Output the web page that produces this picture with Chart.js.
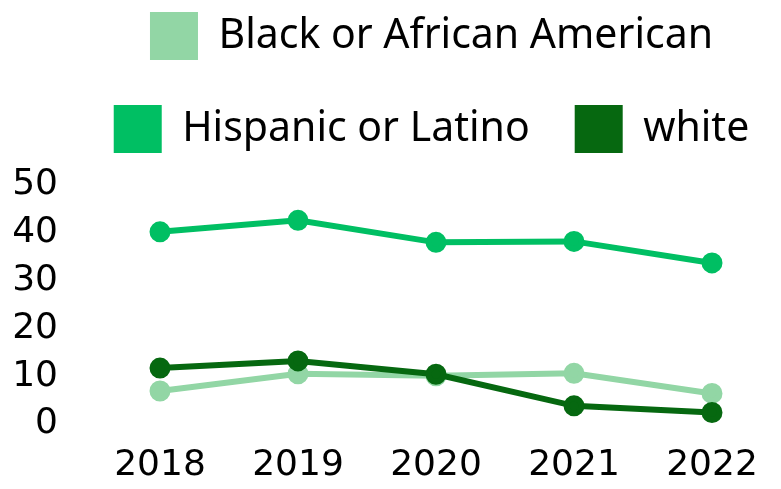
<!DOCTYPE html>
<html>
<head>
<meta charset="utf-8">
<script src="https://cdn.jsdelivr.net/npm/chart.js@4/dist/chart.umd.min.js"></script>
<style>
  html, body { margin: 0; padding: 0; background: #fff; }
  #wrap { width: 781px; height: 489px; }
</style>
</head>
<body>
<div id="wrap"><canvas id="chart1"></canvas></div>
<script>
const years = ['2018', '2019', '2020', '2021', '2022'];
const blackData = [6.9, 10.5, 10.1, 10.6, 6.4];
const hispanicData = [40.2, 42.6, 38.0, 38.2, 33.7];
const whiteData = [11.7, 13.2, 10.4, 3.8, 2.4];
const yTicks = [0, 10, 20, 30, 40, 50];

const legendFont = '"Noto Sans", sans-serif';
const tickFont = '"DejaVu Sans", sans-serif';

function makeSet(label, data, color, order) {
  return {
    label,
    data,
    borderColor: color,
    backgroundColor: color,
    pointBackgroundColor: color,
    pointBorderColor: color,
    borderWidth: 6,
    pointRadius: 7.5,
    pointHoverRadius: 7.5,
    fill: false,
    tension: 0,
    order
  };
}

// legend sits high and a bit right of centre, plot starts at y=185
const legendPlace = {
  id: 'legendPlace',
  beforeInit(chart) {
    const fit = chart.legend.fit;
    chart.legend.fit = function () {
      fit.bind(chart.legend)();
      this.height = 218;
    };
  },
  afterLayout(chart) {
    chart.legend.left += 41;
    chart.legend.right += 41;
  }
};

document.addEventListener('DOMContentLoaded', function () {
  const ctx = document.getElementById('chart1').getContext('2d');
  new Chart(ctx, {
    type: 'line',
    data: {
      labels: years,
      datasets: [
        makeSet('Black or African American', blackData, '#92d6a5', 2),
        makeSet('Hispanic or Latino', hispanicData, '#00bf63', 1),
        makeSet('white', whiteData, '#066810', 0)
      ]
    },
    plugins: [legendPlace],
    options: {
      responsive: true,
      maintainAspectRatio: false,
      animation: false,
      layout: { autoPadding: false, padding: { top: -33, right: 0, bottom: 0, left: 0 } },
      plugins: {
        legend: {
          display: true,
          position: 'top',
          labels: {
            boxWidth: 48,
            boxHeight: 48,
            padding: 45,
            color: '#000',
            sort: (a, b) => a.datasetIndex - b.datasetIndex,
            generateLabels: chart => Chart.defaults.plugins.legend.labels.generateLabels(chart)
              .map(item => Object.assign(item, { lineWidth: 0 })),
            font: { family: legendFont, size: 41 }
          }
        },
        tooltip: { enabled: false }
      },
      scales: {
        x: {
          offset: true,
          grid: { display: false },
          border: { display: false },
          afterFit: axis => { axis.height = 65; },
          ticks: {
            color: '#000',
            padding: 12,
            font: { family: tickFont, size: 36 }
          }
        },
        y: {
          min: 0,
          max: 50,
          afterBuildTicks: axis => { axis.ticks = yTicks.map(v => ({ value: v })); },
          afterFit: axis => { axis.width = 91; },
          grid: { display: false },
          border: { display: false },
          ticks: {
            color: '#000',
            padding: 25,
            font: { family: tickFont, size: 36 }
          }
        }
      }
    }
  });
});
</script>
</body>
</html>
